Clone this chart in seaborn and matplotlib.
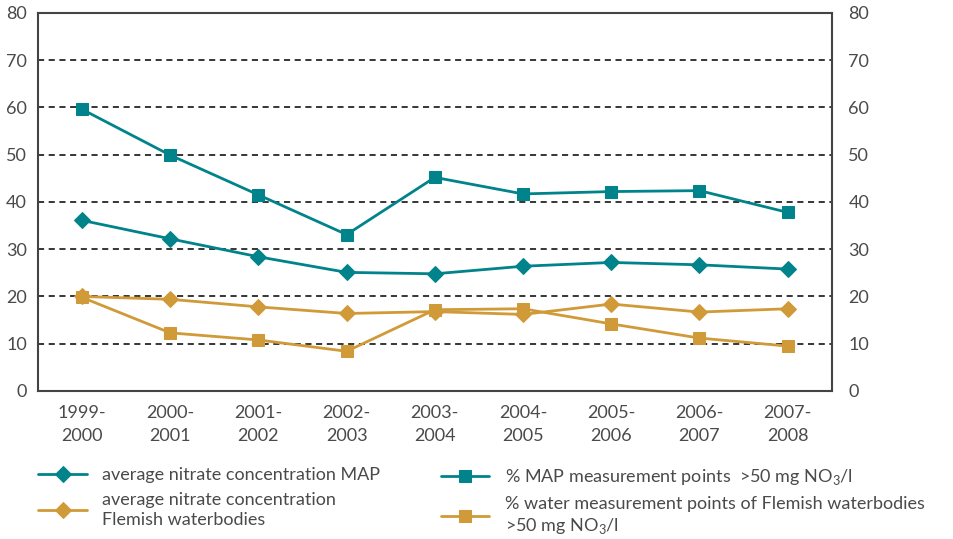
import seaborn as sns
import matplotlib.pyplot as plt
import pandas as pd
import numpy as np

years = ["1999-\n2000", "2000-\n2001", "2001-\n2002", "2002-\n2003", "2003-\n2004",
         "2004-\n2005", "2005-\n2006", "2006-\n2007", "2007-\n2008"]
avg_map = [36.1, 32.2, 28.4, 25.1, 24.8, 26.4, 27.2, 26.7, 25.8]
avg_flemish = [20.0, 19.4, 17.8, 16.4, 16.8, 16.2, 18.4, 16.7, 17.4]
pct_map = [59.6, 49.9, 41.5, 33.1, 45.2, 41.7, 42.2, 42.4, 37.8]
pct_flemish = [19.8, 12.3, 10.8, 8.4, 17.2, 17.4, 14.2, 11.2, 9.5]

teal = "#00838A"
gold = "#D09A38"
txt = "#4a4a4a"

sns.set_theme(style="white")
plt.rcParams['font.family'] = ['Lato', 'DejaVu Sans']
plt.rcParams['mathtext.fontset'] = 'custom'
plt.rcParams['mathtext.rm'] = 'Lato'

df = pd.DataFrame({"pos": np.arange(len(years)), "avg_map": avg_map, "avg_flemish": avg_flemish,
                   "pct_map": pct_map, "pct_flemish": pct_flemish})

fig = plt.figure(figsize=(9.54, 5.39), dpi=100)
ax = fig.add_axes([0.0398, 0.2746, 0.832, 0.7014])

sns.lineplot(x="pos", y="avg_map", data=df, ax=ax, color=teal, marker="D", markersize=8,
             markeredgecolor=teal, linewidth=2, label="average nitrate concentration MAP")
sns.lineplot(x="pos", y="avg_flemish", data=df, ax=ax, color=gold, marker="D", markersize=8,
             markeredgecolor=gold, linewidth=2,
             label="average nitrate concentration\nFlemish waterbodies")
sns.lineplot(x="pos", y="pct_map", data=df, ax=ax, color=teal, marker="s", markersize=8,
             markeredgecolor=teal, linewidth=2,
             label="% MAP measurement points  >50 mg NO$_3$/l")
sns.lineplot(x="pos", y="pct_flemish", data=df, ax=ax, color=gold, marker="s", markersize=8,
             markeredgecolor=gold, linewidth=2,
             label="% water measurement points of Flemish waterbodies\n>50 mg NO$_3$/l")

ax.set_xlim(-0.5, len(years) - 0.5)
ax.set_ylim(0, 80)
ax.set_yticks(range(0, 81, 10))
ax.set_xticks(np.arange(len(years)))
ax.set_xticklabels(years, linespacing=1.55)
ax.set_xticks(np.arange(0.5, len(years) - 1), minor=True)
ax.tick_params(axis="x", which="major", length=0, pad=10, labelsize=13, labelcolor=txt)
ax.tick_params(axis="x", which="minor", direction="in", length=8, width=1.2, color="#444444")
ax.tick_params(axis="y", length=0, labelsize=13, labelcolor=txt, pad=8)
ax.set_xlabel("")
ax.set_ylabel("")
for y in range(10, 80, 10):
    ax.axhline(y, color="black", linestyle=(0, (4, 3)), linewidth=1.1, zorder=0)
for s in ax.spines.values():
    s.set_color("#444444")
    s.set_linewidth(1.5)

ax2 = ax.twinx()
ax2.set_ylim(0, 80)
ax2.set_yticks(range(0, 81, 10))
ax2.tick_params(axis="y", length=0, labelsize=13, labelcolor=txt, pad=12)
for s in ax2.spines.values():
    s.set_visible(False)

h, l = ax.get_legend_handles_labels()
ax.legend_.remove()
common = dict(loc="upper left", frameon=False, fontsize=13, handlelength=2.7,
              handletextpad=0.85, labelspacing=0.5, borderaxespad=0, borderpad=0)
leg1 = fig.legend(h[:2], l[:2], bbox_to_anchor=(0.040, 0.133), **common)
leg2 = fig.legend(h[2:], l[2:], bbox_to_anchor=(0.462, 0.133), **common)
for leg in (leg1, leg2):
    for t in leg.get_texts():
        t.set_color(txt)
        t.set_linespacing(1.25)

plt.savefig("out.png", dpi=100)
